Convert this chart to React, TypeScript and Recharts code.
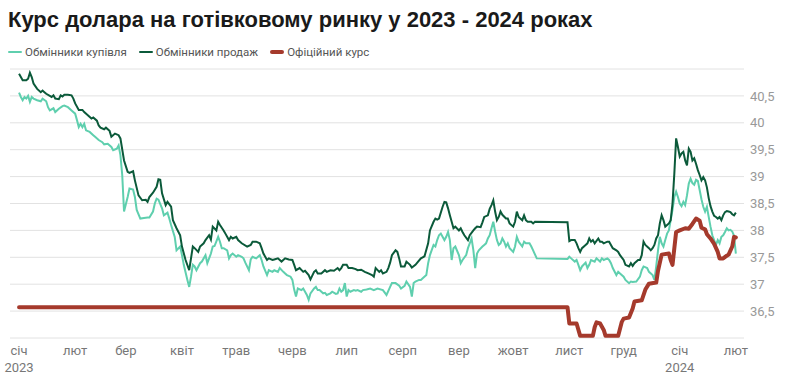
import React from 'react';
import { LineChart, Line, XAxis, YAxis, CartesianGrid } from 'recharts';

// дні від 1 січня 2023
const sellDays = [0, 2, 4, 5, 6, 7, 8, 10, 12, 13, 14, 15, 17, 18, 19, 20, 22, 23, 24, 25, 27, 29, 30, 31, 33, 35, 36, 38, 40, 41, 43, 44, 45, 47, 48, 50, 51, 53, 55, 56, 58, 60, 61, 63, 64, 66, 68, 70, 71, 72, 74, 76, 77, 78, 79, 81, 82, 84, 85, 87, 89, 90, 92, 94, 95, 96, 97, 99, 100, 102, 103, 105, 106, 107, 109, 110, 111, 113, 114, 116, 117, 118, 120, 121, 123, 126, 128, 129, 131, 133, 134, 135, 137, 138, 140, 141, 143, 145, 147, 149, 151, 152, 153, 155, 157, 158, 160, 161, 163, 164, 165, 167, 169, 170, 172, 174, 176, 177, 178, 179, 181, 182, 184, 186, 187, 189, 191, 193, 195, 196, 197, 199, 200, 201, 203, 204, 205, 206, 208, 209, 210, 211, 213, 214, 216, 217, 219, 220, 222, 223, 224, 226, 227, 229, 230, 231, 232, 234, 235, 236, 237, 238, 239, 240, 241, 243, 244, 245, 246, 248, 249, 251, 252, 253, 255, 256, 257, 259, 260, 261, 262, 263, 264, 265, 266, 267, 269, 270, 271, 273, 274, 275, 276, 278, 279, 280, 281, 283, 284, 285, 303, 304, 305, 307, 308, 309, 310, 311, 313, 314, 315, 316, 317, 318, 320, 321, 322, 323, 325, 326, 327, 328, 330, 331, 332, 334, 335, 337, 338, 339, 340, 342, 343, 344, 345, 346, 348, 349, 350, 351, 352, 353, 354, 355, 356, 357, 358, 359, 360, 361, 362, 363, 364, 365, 366, 367, 368, 369, 370, 371, 372, 373, 374, 375, 376, 377, 378, 379, 380, 381, 382, 383, 384, 385, 386, 387, 388, 389, 390, 391, 392, 393, 394, 395, 396];
const sellRate = [40.91, 40.79, 40.79, 40.82, 40.93, 40.85, 40.73, 40.63, 40.57, 40.6, 40.57, 40.54, 40.5, 40.48, 40.51, 40.45, 40.44, 40.51, 40.49, 40.52, 40.52, 40.51, 40.45, 40.36, 40.24, 40.24, 40.2, 40.14, 40.08, 40.1, 40.04, 39.95, 39.91, 39.88, 39.91, 39.85, 39.74, 39.8, 39.77, 39.71, 39.3, 39.09, 39.07, 39.1, 38.93, 38.65, 38.56, 38.57, 38.53, 38.62, 38.7, 38.81, 38.95, 38.94, 38.69, 38.47, 38.53, 38.44, 38.19, 38.04, 37.91, 37.7, 37.45, 37.26, 37.48, 37.7, 37.67, 37.6, 37.7, 37.76, 37.82, 37.91, 37.83, 38.07, 38.0, 38.16, 38.1, 38.0, 37.94, 37.82, 37.88, 37.85, 37.88, 37.82, 37.76, 37.7, 37.73, 37.79, 37.79, 37.76, 37.67, 37.57, 37.45, 37.48, 37.45, 37.46, 37.48, 37.42, 37.48, 37.46, 37.45, 37.36, 37.26, 37.3, 37.23, 37.25, 37.17, 37.09, 37.23, 37.26, 37.2, 37.2, 37.26, 37.23, 37.26, 37.25, 37.3, 37.26, 37.3, 37.36, 37.36, 37.3, 37.3, 37.28, 37.26, 37.27, 37.23, 37.2, 37.17, 37.14, 37.3, 37.23, 37.26, 37.2, 37.23, 37.3, 37.4, 37.54, 37.63, 37.6, 37.48, 37.33, 37.33, 37.42, 37.36, 37.31, 37.36, 37.4, 37.48, 37.5, 37.52, 37.76, 38.0, 38.16, 38.22, 38.2, 38.22, 38.44, 38.53, 38.52, 38.41, 38.28, 38.16, 38.04, 38.07, 38.0, 38.04, 37.97, 37.91, 37.82, 37.91, 38.0, 38.04, 38.07, 38.06, 38.15, 38.25, 38.28, 38.4, 38.47, 38.56, 38.35, 38.19, 38.25, 38.35, 38.29, 38.22, 38.22, 38.13, 38.07, 38.16, 38.35, 38.25, 38.19, 38.28, 38.19, 38.16, 38.16, 38.13, 38.16, 38.15, 37.8, 37.82, 37.82, 37.76, 37.67, 37.6, 37.67, 37.73, 37.76, 37.85, 37.79, 37.82, 37.76, 37.85, 37.79, 37.79, 37.76, 37.79, 37.79, 37.73, 37.67, 37.63, 37.6, 37.54, 37.45, 37.36, 37.33, 37.39, 37.34, 37.39, 37.45, 37.45, 37.54, 37.79, 37.73, 37.67, 37.63, 37.67, 37.73, 37.85, 37.91, 38.13, 38.28, 38.19, 38.07, 38.1, 38.13, 38.19, 38.5, 39.05, 39.71, 39.55, 39.37, 39.43, 39.46, 39.3, 39.21, 39.52, 39.46, 39.3, 39.34, 39.24, 39.12, 39.03, 38.93, 38.99, 38.93, 38.8, 38.6, 38.45, 38.35, 38.27, 38.25, 38.22, 38.25, 38.19, 38.28, 38.34, 38.36, 38.35, 38.34, 38.3, 38.28, 38.33];

const buyDays = [0, 1, 2, 3, 4, 5, 6, 7, 8, 10, 12, 13, 15, 16, 17, 19, 20, 22, 24, 25, 27, 29, 31, 32, 33, 34, 35, 36, 37, 39, 41, 42, 44, 46, 47, 49, 51, 52, 54, 55, 56, 57, 58, 60, 61, 63, 64, 65, 67, 69, 71, 72, 74, 75, 76, 77, 79, 80, 82, 83, 84, 86, 87, 89, 90, 91, 93, 94, 95, 96, 97, 98, 100, 101, 103, 104, 106, 107, 108, 110, 111, 112, 113, 115, 116, 117, 118, 120, 121, 123, 124, 125, 127, 128, 129, 131, 133, 134, 135, 137, 138, 140, 141, 143, 144, 146, 147, 148, 150, 151, 152, 153, 154, 156, 157, 158, 159, 160, 161, 163, 164, 165, 166, 168, 169, 170, 172, 173, 175, 176, 177, 178, 179, 180, 181, 182, 183, 185, 186, 187, 189, 190, 192, 194, 196, 198, 201, 203, 205, 206, 208, 210, 211, 213, 214, 216, 217, 218, 219, 221, 222, 223, 225, 226, 227, 229, 230, 231, 232, 233, 235, 236, 237, 238, 239, 240, 241, 243, 244, 245, 247, 248, 250, 251, 252, 253, 254, 256, 257, 258, 259, 260, 261, 262, 263, 264, 265, 266, 267, 268, 269, 270, 271, 273, 274, 275, 276, 278, 279, 280, 282, 283, 284, 286, 303, 304, 305, 307, 308, 309, 310, 311, 313, 314, 315, 316, 318, 319, 321, 322, 323, 325, 326, 327, 328, 330, 331, 332, 334, 335, 337, 338, 339, 341, 343, 344, 345, 347, 348, 350, 351, 352, 353, 354, 355, 356, 357, 358, 359, 360, 361, 362, 363, 364, 365, 366, 367, 368, 369, 370, 371, 372, 373, 374, 375, 376, 377, 378, 379, 380, 381, 382, 383, 384, 385, 386, 387, 388, 389, 390, 391, 392, 393, 394, 395, 396];
const buyRate = [40.56, 40.48, 40.42, 40.48, 40.45, 40.5, 40.39, 40.48, 40.45, 40.42, 40.4, 40.45, 40.4, 40.29, 40.23, 40.27, 40.2, 40.26, 40.31, 40.32, 40.29, 40.23, 40.17, 40.05, 39.92, 39.98, 39.92, 39.98, 39.86, 39.83, 39.77, 39.74, 39.68, 39.64, 39.6, 39.61, 39.55, 39.49, 39.52, 39.58, 39.4, 39.03, 38.35, 38.62, 38.78, 38.76, 38.62, 38.38, 38.22, 38.23, 38.24, 38.24, 38.35, 38.5, 38.59, 38.57, 38.41, 38.28, 38.33, 38.22, 38.1, 37.88, 37.63, 37.7, 37.54, 37.36, 37.08, 36.95, 37.14, 37.36, 37.33, 37.26, 37.39, 37.42, 37.54, 37.39, 37.57, 37.7, 37.71, 37.88, 37.79, 37.67, 37.67, 37.63, 37.48, 37.54, 37.57, 37.51, 37.54, 37.51, 37.48, 37.4, 37.26, 37.46, 37.51, 37.48, 37.54, 37.45, 37.33, 37.17, 37.26, 37.23, 37.26, 37.23, 37.3, 37.23, 37.2, 37.17, 37.14, 37.08, 36.9, 36.77, 36.92, 36.89, 36.92, 36.86, 36.8, 36.71, 36.83, 36.92, 36.95, 36.89, 36.89, 36.83, 36.84, 36.8, 36.83, 36.86, 36.82, 36.83, 36.92, 36.86, 36.89, 37.02, 36.77, 36.89, 36.86, 36.89, 36.88, 36.89, 36.86, 36.89, 36.9, 36.92, 36.89, 36.92, 36.89, 36.8, 36.95, 37.02, 37.02, 36.97, 36.92, 36.97, 37.05, 36.95, 36.77, 37.02, 37.05, 37.08, 37.08, 37.11, 37.17, 37.39, 37.54, 37.73, 37.7, 37.82, 37.91, 37.94, 37.82, 37.88, 37.97, 37.82, 37.45, 37.67, 37.7, 37.54, 37.39, 37.45, 37.54, 37.67, 37.85, 37.63, 37.3, 37.57, 37.63, 37.7, 37.73, 37.76, 37.85, 37.91, 38.04, 38.16, 37.98, 37.82, 37.73, 37.76, 37.85, 37.79, 37.7, 37.76, 37.67, 37.6, 37.7, 37.88, 37.79, 37.7, 37.79, 37.76, 37.76, 37.7, 37.63, 37.48, 37.47, 37.51, 37.48, 37.42, 37.45, 37.36, 37.26, 37.33, 37.4, 37.3, 37.36, 37.45, 37.42, 37.48, 37.42, 37.48, 37.45, 37.48, 37.45, 37.39, 37.3, 37.17, 37.23, 37.2, 37.14, 37.08, 37.02, 37.05, 37.04, 37.05, 37.14, 37.26, 37.33, 37.3, 37.23, 37.17, 37.08, 37.33, 37.63, 37.88, 37.76, 37.7, 37.82, 37.94, 38.0, 38.19, 38.38, 38.62, 38.72, 38.62, 38.5, 38.45, 38.53, 38.47, 38.65, 38.87, 38.96, 38.88, 38.85, 38.94, 38.92, 38.75, 38.58, 38.44, 38.35, 38.44, 38.25, 38.07, 37.91, 37.82, 37.73, 37.82, 37.76, 37.88, 37.91, 37.97, 38.04, 38.0, 38.01, 37.98, 37.9, 37.57];

const nbuDays = [0, 303, 304, 308, 310, 317, 318, 319, 321, 323, 324, 331, 333, 334, 337, 339, 340, 344, 346, 348, 352, 353, 355, 359, 360, 361, 363, 365, 368, 370, 372, 374, 376, 377, 379, 380, 382, 384, 386, 387, 389, 391, 392, 394, 395, 396];
const nbuRate = [36.57, 36.57, 36.27, 36.27, 36.04, 36.04, 36.2, 36.29, 36.27, 36.15, 36.04, 36.04, 36.3, 36.36, 36.38, 36.55, 36.68, 36.7, 36.9, 37.01, 37.03, 37.25, 37.55, 37.57, 37.45, 37.36, 37.97, 38.0, 38.04, 38.03, 38.12, 38.22, 38.18, 38.05, 38.02, 37.93, 37.85, 37.75, 37.6, 37.48, 37.48, 37.53, 37.55, 37.7, 37.88, 37.87];

const monthStarts = [0, 31, 59, 90, 120, 151, 181, 212, 243, 273, 304, 334, 365, 396];
const monthNames = ['січ', 'лют', 'бер', 'квіт', 'трав', 'черв', 'лип', 'серп', 'вер', 'жовт', 'лист', 'груд', 'січ', 'лют'];
const yearLabels: Record<number, string> = { 0: '2023', 365: '2024' };
const yTicks = [36.5, 37, 37.5, 38, 38.5, 39, 39.5, 40, 40.5];

const BUY = '#5fcfae';
const SELL = '#0b5a3a';
const NBU = '#a53a2c';

const toPoints = (days: number[], rates: number[]) => days.map((d, i) => ({ day: d, value: rates[i] }));

const MonthTick = (props: any) => {
    const { x, y, payload } = props;
    const i = monthStarts.indexOf(payload.value);
    return (
        <g>
            <text x={x} y={y} dy={9} textAnchor="middle" fill="#777" fontSize={13} fontFamily="Roboto, sans-serif">
                {monthNames[i]}
            </text>
            {yearLabels[payload.value] && (
                <text x={x} y={y} dy={26} textAnchor="middle" fill="#777" fontSize={13} fontFamily="Roboto, sans-serif">
                    {yearLabels[payload.value]}
                </text>
            )}
        </g>
    );
};

const legendItems = [
    { label: 'Обмінники купівля', color: BUY, h: 2 },
    { label: 'Обмінники продаж', color: SELL, h: 2 },
    { label: 'Офіційний курс', color: NBU, h: 4 },
];

export default function App() {
    return (
        <div style={{ position: 'relative', width: 785, height: 381, background: '#fff', overflow: 'hidden' }}>
            <style>{`body{margin:0}`}</style>
            <div style={{ position: 'absolute', left: 8, top: 7, fontFamily: '"Liberation Sans", Arial, sans-serif', fontWeight: 700, fontSize: 22, color: '#1a1a1a', whiteSpace: 'nowrap' }}>
                Курс долара на готівковому ринку у 2023 - 2024 роках
            </div>
            <div style={{ position: 'absolute', left: 8, top: 45, display: 'flex', alignItems: 'center', fontFamily: 'Roboto, sans-serif', fontSize: 11.5, color: '#555' }}>
                {legendItems.map((it) => (
                    <div key={it.label} style={{ display: 'flex', alignItems: 'center', marginRight: 12 }}>
                        <span style={{ display: 'inline-block', width: 14, height: it.h, background: it.color, borderRadius: 2, marginRight: 3 }} />
                        <span>{it.label}</span>
                    </div>
                ))}
            </div>
            <div style={{ position: 'absolute', left: 0, top: 0 }}>
                <LineChart width={785} height={381} margin={{ top: 69, right: 0, bottom: 0, left: 10 }}>
                    <CartesianGrid horizontal vertical={false} stroke="#e2e2e2" />
                    <XAxis
                        dataKey="day"
                        type="number"
                        domain={[-5, 400.5]}
                        ticks={monthStarts}
                        interval={0}
                        tick={<MonthTick />}
                        axisLine={false}
                        tickLine={false}
                        height={43}
                        allowDuplicatedCategory={false}
                    />
                    <YAxis
                        orientation="right"
                        domain={[36, 41]}
                        ticks={yTicks}
                        interval={0}
                        width={41}
                        axisLine={false}
                        tickLine={false}
                        tickSize={0}
                        tickMargin={6}
                        tickFormatter={(v: number) => String(v).replace('.', ',')}
                        tick={{ fill: '#999', fontSize: 13, fontFamily: 'Roboto, sans-serif' }}
                    />
                    <Line data={toPoints(buyDays, buyRate)} dataKey="value" stroke={BUY} strokeWidth={2} dot={false} isAnimationActive={false} />
                    <Line data={toPoints(sellDays, sellRate)} dataKey="value" stroke={SELL} strokeWidth={2} dot={false} isAnimationActive={false} />
                    <Line data={toPoints(nbuDays, nbuRate)} dataKey="value" stroke={NBU} strokeWidth={4} strokeLinecap="round" strokeLinejoin="round" dot={false} isAnimationActive={false} />
                </LineChart>
            </div>
        </div>
    );
}
